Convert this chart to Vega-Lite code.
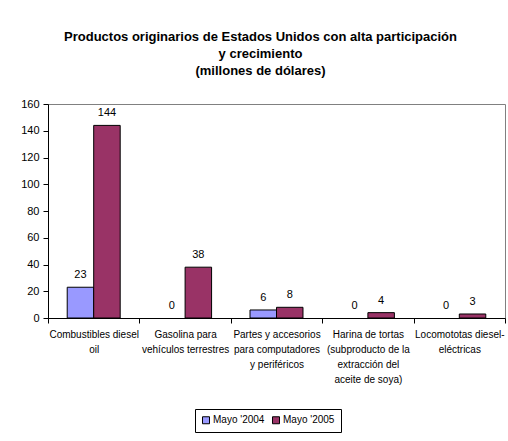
{
  "$schema": "https://vega.github.io/schema/vega-lite/v6.json",
  "autosize": "none",
  "width": 457,
  "height": 214,
  "padding": {"left": 48, "top": 104, "right": 3, "bottom": 123},
  "background": "white",
  "title": {
    "text": ["Productos originarios de Estados Unidos con alta participación", "y crecimiento", "(millones de dólares)"],
    "anchor": "middle",
    "frame": "group",
    "dx": -16,
    "offset": 20,
    "font": "Liberation Sans",
    "fontSize": 13,
    "fontWeight": "bold",
    "lineHeight": 17,
    "color": "black"
  },
  "data": {
    "values": [
      {"producto": "Combustibles diesel|oil", "serie": "Mayo '2004", "valor": 23},
      {"producto": "Combustibles diesel|oil", "serie": "Mayo '2005", "valor": 144},
      {"producto": "Gasolina para|vehículos terrestres", "serie": "Mayo '2004", "valor": 0},
      {"producto": "Gasolina para|vehículos terrestres", "serie": "Mayo '2005", "valor": 38},
      {"producto": "Partes y accesorios|para computadores|y periféricos", "serie": "Mayo '2004", "valor": 6},
      {"producto": "Partes y accesorios|para computadores|y periféricos", "serie": "Mayo '2005", "valor": 8},
      {"producto": "Harina de tortas|(subproducto de la|extracción del|aceite de soya)", "serie": "Mayo '2004", "valor": 0},
      {"producto": "Harina de tortas|(subproducto de la|extracción del|aceite de soya)", "serie": "Mayo '2005", "valor": 4},
      {"producto": "Locomototas diesel-|eléctricas", "serie": "Mayo '2004", "valor": 0},
      {"producto": "Locomototas diesel-|eléctricas", "serie": "Mayo '2005", "valor": 3}
    ]
  },
  "encoding": {
    "x": {
      "field": "producto",
      "type": "nominal",
      "sort": null,
      "scale": {"paddingInner": 0, "paddingOuter": 0},
      "axis": {
        "title": null,
        "labelAngle": 0,
        "labelExpr": "split(datum.label, '|')",
        "tickBand": "extent",
        "tickSize": 5,
        "tickColor": "black",
        "domainColor": "black",
        "labelPadding": 6,
        "labelFont": "Liberation Sans",
        "labelFontSize": 10,
        "labelColor": "black",
        "labelLineHeight": 15,
        "labelBaseline": "top",
        "labelLimit": 0
      }
    },
    "xOffset": {
      "field": "serie",
      "type": "nominal",
      "sort": ["Mayo '2004", "Mayo '2005"],
      "scale": {"domain": ["Mayo '2004", "Mayo '2005"], "paddingInner": 0, "paddingOuter": 0.725}
    },
    "y": {
      "field": "valor",
      "type": "quantitative",
      "scale": {"domain": [0, 160], "nice": false},
      "axis": {
        "title": null,
        "values": [0, 20, 40, 60, 80, 100, 120, 140, 160],
        "grid": false,
        "tickSize": 5,
        "tickColor": "black",
        "domainColor": "black",
        "labelPadding": 4,
        "labelFont": "Liberation Sans",
        "labelFontSize": 11,
        "labelColor": "black"
      }
    }
  },
  "layer": [
    {
      "transform": [{"filter": "datum.valor > 0"}],
      "mark": {"type": "bar", "stroke": "black", "strokeWidth": 1},
      "encoding": {
        "color": {
          "field": "serie",
          "type": "nominal",
          "scale": {"domain": ["Mayo '2004", "Mayo '2005"], "range": ["#9999FF", "#993366"]},
          "legend": {
            "title": null,
            "orient": "none",
            "direction": "horizontal",
            "legendX": 147,
            "legendY": 305,
            "symbolType": "square",
            "symbolSize": 49,
            "symbolStrokeColor": "black",
            "symbolStrokeWidth": 1,
            "symbolOpacity": 1,
            "labelFont": "Liberation Sans",
            "labelFontSize": 10,
            "labelColor": "black",
            "columnPadding": 5,
            "symbolOffset": 0,
            "labelOffset": 2,
            "padding": 6,
            "strokeColor": "black",
            "fillColor": "white"
          }
        }
      }
    },
    {
      "mark": {"type": "text", "baseline": "bottom", "dy": -7, "font": "Liberation Sans", "fontSize": 11, "color": "black"},
      "encoding": {"text": {"field": "valor", "type": "quantitative"}}
    }
  ],
  "config": {
    "view": {"stroke": "#808080", "strokeWidth": 1},
    "legend": {"symbolStrokeColor": "black"}
  }
}
